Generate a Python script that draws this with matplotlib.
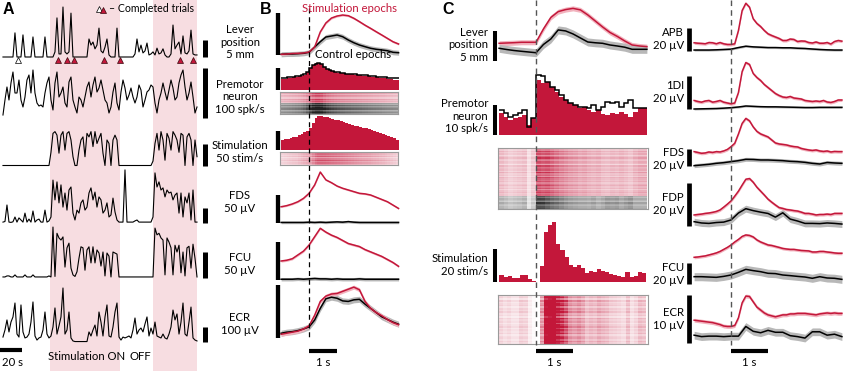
import numpy as np
import matplotlib
matplotlib.use('Agg')
import matplotlib.pyplot as plt
from matplotlib.colors import to_rgb

plt.rcParams['font.family'] = ['Lato', 'DejaVu Sans']
plt.rcParams['font.size'] = 8.2

W, H = 843, 371
RED = '#c3173a'
PINK = '#f7dde1'
BAND_RED = '#f2b3be'
BAND_GREY = '#b8b8b8'

# ---------------- panel A: continuous recording (s) ----------------
t_a = np.linspace(2.7, 179.1, 98)
stim_on_a = [(45.5, 109.0), (139.0, 179.1)]
trials_ctrl_a = [16.4]
trials_stim_a = [52.7, 61.0, 67.3, 94.5, 109.0, 163.6, 175.5]

lever_a = [0, 0, 0, 0, 0, 0, 7.1, 0, 0, 0,
           6.5, 0, 0, 0, 0, 5.9, 0, 0, 0, 0,
           0, 5.9, 0, 0, 0, 0, 1.5, 11.5, 0.9, 0.9,
           14.7, 1.5, 0.9, 1.5, 12.9, 0, 0, 0, 0, 0,
           0, 0, 0, 5.3, 3.5, 4.4, 2.4, 3.5, 8.5, 1.8,
           1.2, 2.9, 5.3, 0.6, 0, 0, 0, 8.5, 0, 0,
           0, 0, 0, 0, 0, 0, 0.9, 5.3, 1.5, 3.5,
           1.2, 1.8, 4.1, 0.6, 0.9, 1.5, 0.6, 2.6, 0.9, 1.2,
           2.4, 0.6, 0, 0, 0.9, 9.4, 2.4, 3.5, 4.4, 0.9,
           6.2, 1.2, 0.9, 1.8, 7.9, 0.9, 0.6, 0.6]  # mm

premotor_a = [6, 36, 62, 36, 70, 92, 50, 50, 76, 36,
              22, 42, 76, 86, 50, 96, 50, 30, 24, 26,
              22, 50, 70, 82, 36, 16, 70, 92, 42, 50,
              62, 30, 22, 72, 82, 36, 22, 10, 42, 36,
              22, 42, 62, 72, 42, 66, 82, 52, 60, 76,
              56, 36, 30, 10, 22, 52, 70, 30, 16, 52,
              76, 60, 36, 46, 60, 42, 30, 42, 66, 56,
              22, 36, 52, 56, 66, 62, 30, 10, 36, 50,
              70, 52, 36, 56, 76, 60, 36, 42, 70, 86,
              96, 62, 36, 50, 72, 42, 10, 22]  # spk/s

stim_a = [0, 0, 0, 0, 0, 0, 0, 0, 0, 0,
          0, 0, 0, 0, 0, 0, 0, 0, 0, 0,
          0, 0, 0, 0, 30, 73, 77, 69, 28, 69,
          77, 35, 73, 77, 58, 20, 0, 0, 35, 58,
          65, 20, 73, 65, 77, 43, 77, 50, 62, 73,
          28, 0, 58, 50, 0, 58, 69, 58, 0, 0,
          0, 0, 0, 0, 0, 0, 0, 0, 0, 0,
          0, 0, 0, 0, 0, 10, 50, 73, 35, 77,
          58, 12, 73, 62, 35, 77, 69, 58, 30, 73,
          69, 0, 65, 73, 58, 0, 58, 20]  # stim/s

fds_a = [3, 5, 60, 3, 2, 4, 20, 3, 17, 10,
         3, 33, 3, 13, 3, 40, 3, 10, 13, 3,
         3, 43, 3, 7, 20, 143, 77, 137, 67, 127,
         53, 100, 43, 110, 120, 33, 10, 43, 33, 67,
         77, 43, 53, 100, 117, 77, 103, 53, 87, 77,
         33, 43, 67, 20, 27, 83, 37, 10, 3, 3,
         3, 177, 3, 3, 3, 3, 7, 10, 3, 3,
         3, 3, 3, 3, 3, 20, 167, 120, 137, 110,
         117, 87, 110, 100, 103, 77, 93, 100, 33, 100,
         20, 87, 67, 100, 10, 110, 3, 3]  # uV

fcu_a = [2, 2, 4, 4, 2, 2, 6, 2, 2, 2,
         2, 6, 2, 2, 2, 6, 2, 2, 2, 2,
         2, 2, 2, 4, 2, 98, 3, 86, 77, 73,
         79, 21, 58, 67, 19, 6, 3, 12, 38, 60,
         58, 15, 54, 60, 29, 60, 29, 54, 48, 23,
         50, 4, 48, 42, 2, 50, 48, 46, 2, 2,
         2, 2, 2, 2, 2, 2, 2, 2, 2, 2,
         2, 2, 2, 2, 2, 2, 96, 83, 86, 77,
         73, 6, 77, 69, 58, 6, 63, 50, 63, 10,
         50, 4, 58, 61, 19, 65, 38, 2]  # uV

ecr_a = [33, 80, 147, 67, 133, 167, 260, 53, 33, 247,
         67, 27, 33, 53, 133, 267, 40, 13, 27, 33,
         80, 200, 53, 27, 40, 100, 227, 53, 107, 167,
         360, 53, 80, 200, 27, 7, 3, 3, 3, 3,
         3, 3, 3, 67, 40, 80, 113, 40, 200, 133,
         40, 167, 247, 40, 33, 100, 200, 260, 33, 13,
         33, 27, 33, 40, 27, 80, 160, 53, 80, 93,
         67, 120, 167, 40, 93, 53, 133, 40, 33, 27,
         53, 27, 20, 53, 100, 213, 147, 187, 53, 133,
         260, 53, 40, 133, 233, 27, 13, 7]  # uV

# ---------------- panel B: averages (s from stimulus trigger) ----------------
t_b = np.round(np.arange(-1.0, 3.21, 0.2), 2)
edges_b = np.round(np.arange(-1.0, 3.21, 0.1), 2)

lever_b_stim = [0.08, 0.12, 0.18, 0.2, 0.24, 0.36, 0.95, 2.74, 3.81, 4.4, 4.64,
                4.76, 4.68, 4.37, 3.97, 3.55, 3.17, 2.77, 2.38, 1.98, 1.58, 1.31]
lever_b_ctrl = [0.08, 0.12, 0.12, 0.15, 0.2, 0.32, 0.95, 1.58, 2.14, 2.26, 2.38,
                2.18, 1.79, 1.46, 1.19, 0.99, 0.8, 0.68, 0.6, 0.51, 0.32, 0.27]
pm_b_stim = [50, 52, 53, 55, 57, 59, 62, 65, 70, 80, 100, 114, 123, 123, 118, 105,
             95, 90, 86, 82, 79, 77, 76, 74, 73, 71, 70, 68, 67, 65, 64, 62, 61,
             59, 58, 56, 55, 53, 51, 49, 47, 45]
pm_b_ctrl = [55, 56, 57, 58, 60, 62, 64, 67, 72, 82, 98, 112, 120, 121, 116, 104,
             95, 90, 86, 83, 80, 78, 77, 75, 74, 72, 71, 70, 69, 67, 66, 64, 63,
             62, 61, 60, 58, 57, 56, 55, 54, 53]
stim_b = [26, 28, 30, 32, 34, 35, 39, 43, 47, 51, 58, 70, 83, 89, 89, 88, 86, 84,
          82, 80, 78, 76, 74, 72, 69, 67, 64, 62, 60, 58, 57, 55, 52, 50, 48, 45,
          43, 40, 37, 34, 31, 27]
fds_b_stim = [29, 31, 34, 38, 44, 53, 68, 91, 77, 72, 66, 62, 59, 56, 53, 52, 50,
              46, 42, 38, 32, 26]
fds_b_ctrl = [1, 1, 1, 1, 1, 1.5, 1, 1.5, 1, 1.5, 2, 1.5, 2.5, 1.5, 1, 1, 1, 1,
              1, 1, 1, 1]
fcu_b_stim = [25, 26, 28, 33, 38, 46, 57, 68, 63, 59, 56, 52, 48, 46, 44, 40, 37,
              34, 31, 27, 23, 18]
fcu_b_ctrl = [1, 1, 1, 1.5, 1, 1.5, 2, 1.5, 1.5, 1, 1.5, 1, 1, 1, 1.5, 1, 1, 1,
              1, 1, 1, 1]
ecr_b_stim = [7, 9, 11, 13, 17, 23, 43, 69, 79, 83, 84, 88, 92, 96, 91, 69, 56,
              48, 42, 35, 29, 25]
ecr_b_ctrl = [9, 11, 12, 14, 17, 21, 34, 56, 74, 77, 75, 70, 69, 72, 73, 64, 56,
              48, 40, 35, 30, 26]

rows_b_pm_stim = [0.9, 1.2, 0.8, 1.1, 1.0, 0.7, 1.2, 0.9, 1.1, 0.8]
rows_b_pm_ctrl = [1.0, 0.8, 1.2, 0.9, 1.1, 1.3, 0.8, 1.0, 1.2, 0.9]
rows_b_stim = [0.8, 1.1, 0.9, 1.2, 0.7, 1.0, 1.3, 0.9, 1.1, 0.8]

# ---------------- panel C: single premotor cell ----------------
t_c = np.round(np.arange(-1.0, 3.01, 0.2), 2)
t_c_fine = np.round(np.arange(-1.0, 3.01, 0.1), 2)
edges_pm_c = np.arange(-8, 25) * 0.125
edges_stim_c = np.round(np.arange(-9, 28) * 0.11, 3)

lever_c_stim = [1.95, 2.0, 2.05, 2.12, 2.12, 2.12, 4.34, 6.26, 7.23, 7.57, 7.77,
                7.52, 6.68, 5.68, 4.68, 3.76, 3.09, 2.34, 1.67, 1.5, 1.39]
lever_c_ctrl = [1.12, 0.92, 0.75, 0.62, 0.5, 0.38, 1.75, 2.67, 4.18, 4.01, 3.51,
                2.84, 2.17, 2.04, 1.95, 1.67, 1.5, 1.3, 0.95, 0.95, 0.95]
pm_c_stim = [7.2, 6.1, 5.0, 5.6, 6.1, 6.7, 3.3, 5.6,
             18.3, 17.2, 17.8, 16.1, 14.4, 12.8, 11.7, 10.6, 10.0, 8.9, 9.4, 8.3,
             7.8, 8.3, 7.0, 6.7, 7.4, 7.0, 7.8, 7.0, 6.1, 7.8, 8.9, 8.9]
pm_c_ctrl = [8.3, 7.2, 6.1, 6.7, 7.2, 8.3, 2.8, 5.6,
             20.0, 19.7, 17.8, 16.1, 15.0, 13.3, 11.7, 10.6, 10.0, 9.4, 9.4, 8.9,
             10.0, 8.3, 9.4, 11.1, 10.6, 11.1, 9.4, 10.6, 11.7, 8.9, 8.9, 8.9]
stim_c = [4.0, 3.0, 3.6, 2.6, 2.6, 4.4, 4.0, 1.6, 0.4,
          0.0, 9.5, 30.3, 34.3, 36.4, 23.0, 19.2, 15.2, 10.1, 8.9, 10.1, 8.3, 5.6,
          6.7, 6.1, 7.7, 6.7, 6.1, 4.7, 4.4, 3.9, 3.2, 5.8, 2.8, 3.9, 6.1, 5.5]

rows_c_pm_stim = [1.0, 0.8, 1.2, 0.9, 1.1, 0.7, 1.0, 1.3, 0.9, 0.8, 1.1, 1.0,
                  0.6, 1.2, 0.9, 1.0, 1.1, 0.8, 1.3, 0.9, 1.0, 0.7, 1.2, 1.0,
                  0.9, 1.1, 0.8, 1.0, 1.2, 0.9, 1.1, 0.7, 1.0, 1.2, 0.9, 1.0]
rows_c_pm_ctrl = [1.1, 0.9, 1.2, 1.0, 0.8, 1.3, 1.0, 0.9, 1.1, 1.2]
rows_c_stim = [0.9, 1.1, 0.6, 1.3, 0.8, 1.0, 1.2, 0.7, 1.1, 0.9, 1.3, 0.8, 1.0,
               0.6, 1.2, 0.9, 1.1, 0.7, 1.0, 1.3, 0.8, 1.1, 0.9, 1.2, 0.7, 1.0,
               1.1, 0.8, 1.2, 0.9]

# EMG averages (uV), stim epochs on 0.1 s grid, control on 0.2 s grid
emg_c = {
    'APB': ([6.8, 6.4, 6.2, 5.9, 7.0, 6.8, 5.9, 7.0, 5.9, 5.3, 5.3, 5.9, 17.6, 35.2,
             41.6, 38.1, 27.9, 23.8, 21.1, 17.6, 14.7, 13.2, 11.9, 10.6, 8.8, 8.8,
             10.1, 9.7, 7.9, 8.4, 8.2, 7.0, 6.6, 7.5, 6.4, 6.4, 7.0, 5.7, 7.9, 8.8, 8.2],
            [0.4, 0.4, 0.4, 0.6, 0.9, 1.2, 2.6, 3.8, 3.2, 2.9, 2.6, 2.6, 2.4, 2.4,
             2.0, 1.8, 1.3, 0.9, 0.6, 0.4, 0.4]),
    '1DI': ([5.1, 4.5, 4.1, 4.8, 5.1, 4.1, 4.5, 5.1, 4.1, 3.6, 3.1, 3.6, 9.9, 22.5,
             27.9, 26.7, 21.3, 18.9, 17.1, 14.7, 12.9, 11.1, 9.3, 8.1, 7.2, 6.9, 7.5,
             6.6, 6.3, 6.0, 5.1, 4.8, 4.5, 4.8, 4.5, 5.1, 4.2, 3.9, 4.5, 5.4, 5.4],
            [0.0, 0.1, 0.2, 0.3, 0.5, 0.8, 1.2, 1.8, 1.6, 1.4, 1.3, 1.3, 1.2, 1.1,
             1.0, 0.9, 0.9, 1.0, 1.0, 1.0, 1.0]),
    'FDS': ([17.2, 16.2, 15.2, 15.6, 16.8, 16.2, 17.2, 16.8, 18.0, 19.8, 23.2, 27.2,
             38.4, 51.0, 57.0, 54.0, 46.8, 41.4, 38.4, 36.6, 34.8, 31.2, 27.6, 26.4,
             25.8, 25.2, 24.0, 23.2, 22.8, 21.0, 20.0, 19.2, 18.6, 19.2, 18.0, 17.4,
             18.0, 16.8, 17.4, 17.2, 17.2],
            [0.4, 1.2, 2.0, 3.2, 4.0, 5.2, 6.4, 8.0, 7.8, 7.2, 7.2, 6.8, 6.4, 5.6,
             5.2, 4.4, 3.2, 2.4, 4.2, 3.6, 3.2]),
    'FDP': ([5.1, 5.3, 5.5, 5.8, 6.0, 6.3, 6.7, 7.4, 8.7, 10.1, 11.6, 13.8, 16.1,
             18.9, 21.6, 21.9, 20.2, 17.9, 16.1, 14.3, 12.4, 11.0, 9.7, 8.5, 8.1,
             7.6, 7.4, 7.1, 6.9, 6.4, 5.8, 5.8, 5.5, 5.1, 5.3, 5.3, 5.5, 5.3, 5.8,
             5.8, 5.8],
            [2.0, 1.4, 1.2, 1.6, 1.8, 2.8, 6.0, 8.0, 7.1, 6.4, 5.8, 4.1, 6.1, 3.2,
             2.3, 1.2, 1.2, 1.1, 1.4, 1.2, 0.9]),
    'FCU': ([21.3, 21.6, 22.1, 22.6, 23.5, 24.4, 25.4, 26.8, 28.7, 30.6, 32.9, 35.7,
             38.1, 40.9, 42.3, 41.8, 40.4, 37.6, 35.7, 34.3, 32.9, 32.4, 31.5, 30.6,
             29.6, 29.1, 28.7, 28.7, 28.2, 27.7, 27.5, 27.3, 26.3, 26.3, 26.8, 26.8,
             26.3, 25.9, 25.4, 25.1, 25.1],
            [3.1, 3.1, 2.8, 2.5, 3.4, 4.7, 7.2, 10.0, 8.8, 7.8, 6.3, 6.0, 4.7, 4.1,
             3.4, 2.8, 1.6, 3.1, 1.9, 1.6, 0.6]),
    'ECR': ([4.1, 4.0, 3.9, 3.8, 3.7, 3.6, 3.4, 3.2, 2.9, 2.8, 2.8, 3.0, 4.6, 7.7,
             9.1, 9.0, 7.9, 6.8, 6.2, 5.6, 5.2, 5.0, 4.8, 5.0, 5.2, 5.2, 5.4, 5.4,
             5.5, 5.5, 5.5, 5.4, 5.3, 5.2, 5.4, 5.5, 5.6, 5.5, 5.6, 5.5, 5.5],
            [1.0, 0.7, 0.8, 0.8, 0.7, 0.8, 0.8, 2.8, 1.8, 1.5, 2.0, 1.6, 1.6, 0.9,
             0.7, 0.4, 1.7, 1.7, 1.0, 1.2, 0.7]),
}
emg_c_bar = {'APB': 20, '1DI': 20, 'FDS': 20, 'FDP': 20, 'FCU': 20, 'ECR': 10}
# px layout of EMG rows: top, bottom, baseline, px per bar, bar bottom, sem stim/ctrl
emg_c_rows = {'APB': (0, 55, 50.5, 22.7, 0, 1.3, 0.9),
              '1DI': (55, 112, 109, 33.3, 0, 0.9, 0.6),
              'FDS': (112, 170, 166, 16.7, 0, 1.8, 2.4),
              'FDP': (175, 230, 226, 43.3, 0, 0.7, 1.6),
              'FCU': (232, 287, 280, 21.3, -4, 1.4, 3.8),
              'ECR': (290, 345, 340, 48.3, -0.6, 0.4, 0.8)}

# ---------------- drawing ----------------
fig = plt.figure(figsize=(W / 100, H / 100), dpi=100)

COLS = {'A': (0, 197, (0, 179.1)),
        'B': (280, 398, (-1.04, 3.18)),
        'CL': (498, 648, (-1.03, 3.03)),
        'CR': (693, 843, (-1.03, 3.03))}


def add_ax(x0, x1, ytop, ybot):
    return fig.add_axes([x0 / W, 1 - ybot / H, (x1 - x0) / W, (ybot - ytop) / H])


def trace_ax(col, ytop, ybot, base, upp):
    x0, x1, tl = COLS[col]
    ax = add_ax(x0, x1, ytop, ybot)
    ax.set_xlim(*tl)
    ax.set_ylim((base - ybot) * upp, (base - ytop) * upp)
    ax.axis('off')
    return ax


def time_ax(col):
    x0, x1, tl = COLS[col]
    ax = add_ax(x0, x1, 0, H)
    ax.set_xlim(*tl)
    ax.set_ylim(H, 0)
    ax.axis('off')
    return ax


def scale_bar(ax, col, xpx, y0, length, lw=3.3):
    x0, x1, tl = COLS[col]
    t = tl[0] + (xpx - x0) / (x1 - x0) * (tl[1] - tl[0])
    ax.plot([t, t], [y0, y0 + length], color='k', lw=lw,
            solid_capstyle='butt', clip_on=False)


def trace(ax, t, v, color='k', lw=0.8, sem=None, band=None):
    v = np.asarray(v, float)
    if sem is not None:
        ax.fill_between(t, v - sem, v + sem, color=band, lw=0, clip_on=False)
    ax.plot(t, v, color=color, lw=lw, clip_on=False, solid_joinstyle='round')


def hist(ax, edges, stim, ctrl=None):
    ax.stairs(stim, edges, fill=True, color=RED, lw=0, clip_on=False)
    if ctrl is not None:
        ax.stairs(ctrl, edges, baseline=None, color='k', lw=1.1, clip_on=False)


def raster(col, ytop, ybot, edges, blocks):
    x0, x1, tl = COLS[col]
    ax = add_ax(x0, x1, ytop, ybot)
    parts = []
    for dens, weights, color in blocks:
        c = np.array(to_rgb(color))
        d = np.clip(np.outer(weights, dens), 0, 1)
        parts.append(1 - d[..., None] * (1 - c))
    ax.imshow(np.vstack(parts), aspect='auto', interpolation='nearest',
              extent=(edges[0], edges[-1], 0, 1))
    ax.set_xlim(*tl)
    ax.set_ylim(0, 1)
    ax.set_xticks([])
    ax.set_yticks([])
    for s in ax.spines.values():
        s.set_color('#9a9a9a')
        s.set_linewidth(0.8)
    return ax


# --- A ---
bgA = time_ax('A')
for on, off in stim_on_a:
    bgA.axvspan(on, off, color=PINK, lw=0)
bgA.plot([0, 20], [350, 350], color='k', lw=3, solid_capstyle='butt', clip_on=False)

ax = trace_ax('A', 5, 60, 57, 5 / 17)
trace(ax, t_a, lever_a)
ax.plot(trials_ctrl_a, [-0.9] * len(trials_ctrl_a), ls='none', marker='^', ms=4.5,
        mfc='white', mec='k', mew=0.5, clip_on=False)
ax.plot(trials_stim_a, [-0.9] * len(trials_stim_a), ls='none', marker='^', ms=4.5,
        mfc=RED, mec='#3a0a10', mew=0.5, clip_on=False)
scale_bar(ax, 'A', 205.5, 0, 5, lw=3.6)

ax = trace_ax('A', 62, 120, 118, 100 / 50)
trace(ax, t_a, premotor_a)
scale_bar(ax, 'A', 205.5, 0, 100, lw=3.6)

ax = trace_ax('A', 125, 167, 165.5, 50 / 22)
trace(ax, t_a, stim_a)
scale_bar(ax, 'A', 205.5, 0, 50, lw=3.6)

ax = trace_ax('A', 168, 225, 223, 50 / 15)
trace(ax, t_a, fds_a)
scale_bar(ax, 'A', 205.5, 0, 50, lw=3.6)

ax = trace_ax('A', 222, 280, 278, 50 / 26)
trace(ax, t_a, fcu_a)
scale_bar(ax, 'A', 205.5, 0, 50, lw=3.6)

ax = trace_ax('A', 285, 345, 342, 100 / 15)
trace(ax, t_a, ecr_a)
scale_bar(ax, 'A', 205.5, 0, 100, lw=3.6)

# --- B ---
ax = trace_ax('B', 5, 60, 55, 5 / 42)
trace(ax, t_b, lever_b_ctrl, 'k', 1.1, 0.3, BAND_GREY)
trace(ax, t_b, lever_b_stim, RED, 1.1, 0.12, BAND_RED)
scale_bar(ax, 'B', 277.5, 0, 5, lw=3.1)

ax = trace_ax('B', 60, 91, 90, 100 / 22)
hist(ax, edges_b, pm_b_stim, pm_b_ctrl)
scale_bar(ax, 'B', 277.5, 0, 100, lw=3.1)
raster('B', 92, 114, edges_b,
       [(np.array(pm_b_stim) / 170, rows_b_pm_stim, RED),
        (np.array(pm_b_ctrl) / 130, rows_b_pm_ctrl, '#222222')])

ax = trace_ax('B', 115, 151, 150, 50 / 19)
hist(ax, edges_b, stim_b)
scale_bar(ax, 'B', 277.5, 0, 50, lw=3.1)
raster('B', 152, 165, edges_b, [(np.array(stim_b) / 150, rows_b_stim, RED)])

for stim, ctrl, (ytop, ybot, base, upp, bar, sem) in [
        (fds_b_stim, fds_b_ctrl, (170, 225, 223, 50 / 28, 50, 1.5)),
        (fcu_b_stim, fcu_b_ctrl, (226, 282, 280, 50 / 38, 50, 1.5)),
        (ecr_b_stim, ecr_b_ctrl, (283, 340, 338, 100 / 53, 100, 3.8))]:
    ax = trace_ax('B', ytop, ybot, base, upp)
    trace(ax, t_b, ctrl, 'k', 1.1, sem * 1.5, BAND_GREY)
    trace(ax, t_b, stim, RED, 1.1, sem, BAND_RED)
    scale_bar(ax, 'B', 277.5, 0, bar, lw=3.1)

# --- C left ---
ax = trace_ax('CL', 5, 62, 55, 5 / 30)
trace(ax, t_c, lever_c_stim, RED, 1.1, 0.42, BAND_RED)
trace(ax, t_c, lever_c_ctrl, 'k', 1.1, 0.67, BAND_GREY)
scale_bar(ax, 'CL', 494.5, -1, 5, lw=2.9)

ax = trace_ax('CL', 70, 136, 135, 10 / 30)
hist(ax, edges_pm_c, pm_c_stim, pm_c_ctrl)
scale_bar(ax, 'CL', 494.5, 0, 10, lw=2.9)
raster('CL', 148, 209, edges_pm_c,
       [(np.array(pm_c_stim) / 26, rows_c_pm_stim, RED),
        (np.array(pm_c_ctrl) / 28, rows_c_pm_ctrl, '#222222')])

ax = trace_ax('CL', 215, 283, 282, 20 / 33)
hist(ax, edges_stim_c, stim_c)
scale_bar(ax, 'CL', 494.5, 0, 20, lw=2.9)
raster('CL', 295, 344, edges_stim_c, [(np.array(stim_c) / 22, rows_c_stim, RED)])

# --- C right ---
for name, (stim, ctrl) in emg_c.items():
    ytop, ybot, base, bar_px, bar0, sem_s, sem_c = emg_c_rows[name]
    upp = emg_c_bar[name] / bar_px
    ax = trace_ax('CR', ytop, ybot, base, upp)
    trace(ax, t_c, ctrl, 'k', 1.1, sem_c, BAND_GREY)
    trace(ax, t_c_fine, stim, RED, 1.1, sem_s, BAND_RED)
    scale_bar(ax, 'CR', 689, bar0, emg_c_bar[name], lw=3.4)

# --- trigger lines and time bars ---
for col, top, bot, color, lw in [('B', 8, 338, 'k', 0.9),
                                 ('CL', 0, 345, '#555555', 1.0),
                                 ('CR', 0, 345, '#555555', 1.0)]:
    tax = time_ax(col)
    tax.plot([0, 0], [top, bot], color=color, lw=lw, ls=(0, (4, 3)))
    tax.plot([0, 1], [351, 351], color='k', lw=3, solid_capstyle='butt')
    tax.text(0.5, 363, '1 s', ha='center', va='center')

# --- text overlay ---
ov = fig.add_axes([0, 0, 1, 1])
ov.set_xlim(0, W)
ov.set_ylim(H, 0)
ov.axis('off')

for letter, x in [('A', 3), ('B', 260), ('C', 442)]:
    ov.text(x, 9, letter, fontsize=11.5, fontweight='bold', family='Liberation Sans',
            ha='left', va='center')

ov.plot([99], [9], ls='none', marker='^', ms=5, mfc='white', mec='k', mew=0.5)
ov.plot([103], [9.5], ls='none', marker='^', ms=5, mfc=RED, mec='#3a0a10', mew=0.5)
ov.text(109, 9, '– Completed trials', ha='left', va='center', fontsize=7.6)
ov.text(2, 363, '20 s', ha='left', va='center')
ov.text(48, 357, 'Stimulation ON', ha='left', va='center')
ov.text(130, 357, 'OFF', ha='left', va='center')

ov.text(349, 9, 'Stimulation epochs', color=RED, ha='center', va='center')
ov.text(353, 55, 'Control epochs', ha='center', va='center')

for s, y in [('Lever\nposition\n5 mm', 42), ('Premotor\nneuron\n100 spk/s', 97),
             ('Stimulation\n50 stim/s', 152), ('FDS\n50 µV', 202),
             ('FCU\n50 µV', 264), ('ECR\n100 µV', 324)]:
    ov.text(240, y, s, ha='center', va='center', linespacing=1.2)

for s, y in [('Lever\nposition\n5 mm', 45), ('Premotor\nneuron\n10 spk/s', 116),
             ('Stimulation\n20 stim/s', 265)]:
    ov.text(488, y, s, ha='right', va='center', multialignment='right', linespacing=1.2)

for s, y in [('APB\n20 µV', 39), ('1DI\n20 µV', 92), ('FDS\n20 µV', 159),
             ('FDP\n20 µV', 204), ('FCU\n20 µV', 274), ('ECR\n10 µV', 319)]:
    ov.text(684, y, s, ha='right', va='center', multialignment='right', linespacing=1.2)

fig.savefig('out.png', dpi=100)
